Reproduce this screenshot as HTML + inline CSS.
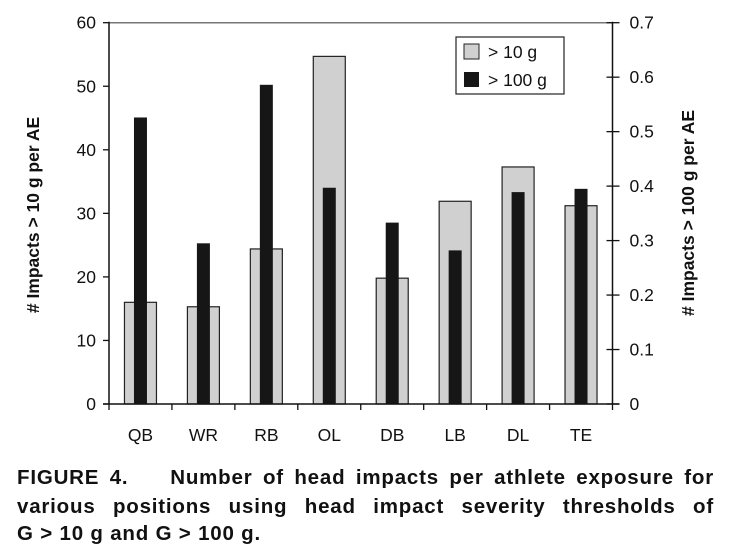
<!DOCTYPE html>
<html><head><meta charset="utf-8"><style>
body{margin:0;width:730px;height:555px;background:#fff;overflow:hidden;font-family:"Liberation Sans",Arial,sans-serif;}
svg{position:absolute;left:0;top:0;}
.cap{position:absolute;left:17px;width:697px;font-weight:bold;font-size:20.5px;letter-spacing:0.8px;text-align:justify;text-align-last:justify;white-space:nowrap;color:#111;}
</style></head><body>
<svg id="chart" width="730" height="460"></svg>
<div class="cap" style="top:466px"><span>FIGURE 4.</span>&nbsp;&nbsp;&nbsp; Number of head impacts per athlete exposure for</div>
<div class="cap" style="top:495px">various positions using head impact severity thresholds of</div>
<div class="cap" style="top:522px;text-align-last:left;width:auto">G &gt; 10 g and G &gt; 100 g.</div>
<script>
const categories=["QB","WR","RB","OL","DB","LB","DL","TE"];
const impacts10=[16.0,15.3,24.4,54.7,19.8,31.9,37.3,31.2];
const impacts100=[0.526,0.295,0.586,0.397,0.333,0.282,0.389,0.395];
const leftTicks=[0,10,20,30,40,50,60];
const rightTicks=[0,0.1,0.2,0.3,0.4,0.5,0.6,0.7];
const svg=document.getElementById('chart');
const NS='http://www.w3.org/2000/svg';
const X0=109,X1=612.5,Y0=404,Y1=22.7;
const yL=v=>Y0-(v/60)*(Y0-Y1);
const yR=v=>Y0-(v/0.7)*(Y0-Y1);
const bw=(X1-X0)/categories.length;
const xc=i=>X0+bw*(i+0.5);
function mk(t,a){const e=document.createElementNS(NS,t);for(const k in a)e.setAttribute(k,a[k]);svg.appendChild(e);return e;}
let e=mk('line',{x1:X0,y1:Y1,x2:X1,y2:Y1,stroke:'#777','stroke-width':1.5});

categories.forEach((c,i)=>{
  let g=mk('rect',{x:xc(i)-16,y:yL(impacts10[i]),width:32,height:Y0-yL(impacts10[i]),fill:'#d0d0d0',stroke:'#222','stroke-width':1.2});
  
  
  let b=mk('rect',{x:xc(i)-6.5,y:yR(impacts100[i]),width:13,height:Y0-yR(impacts100[i]),fill:'#161616'});
  
  
  let t=mk('text',{x:xc(i),y:441,'text-anchor':'middle','font-size':17.5,fill:'#111'});
  t.textContent=c;
  
  
});
e=mk('line',{x1:X0,y1:Y1-1,x2:X0,y2:Y0,stroke:'#111','stroke-width':1.5});

e=mk('line',{x1:X1,y1:Y1-1,x2:X1,y2:Y0,stroke:'#111','stroke-width':1.5});

e=mk('line',{x1:X0-6,y1:Y0,x2:X1+7,y2:Y0,stroke:'#111','stroke-width':1.5});

for(let i=0;i<=categories.length;i++){
  let tk=mk('line',{x1:X0+bw*i,y1:Y0,x2:X0+bw*i,y2:Y0+6,stroke:'#111','stroke-width':1.3});
  
}
leftTicks.forEach(v=>{
  let tk=mk('line',{x1:X0-6,y1:yL(v),x2:X0,y2:yL(v),stroke:'#111','stroke-width':1.3});
  
  let t=mk('text',{x:X0-13,y:yL(v)+6,'text-anchor':'end','font-size':17.5,fill:'#111'});
  t.textContent=v;
  
});
rightTicks.forEach(v=>{
  let tk=mk('line',{x1:X1-6,y1:yR(v),x2:X1+7,y2:yR(v),stroke:'#111','stroke-width':1.3});
  
  let t=mk('text',{x:X1+17,y:yR(v)+6,'text-anchor':'start','font-size':17.5,fill:'#111'});
  t.textContent=v===0?'0':v.toFixed(1);
  
});
let lt=mk('text',{x:0,y:0,'text-anchor':'middle','font-size':17.5,'font-weight':'bold',fill:'#111',transform:'translate(39,215) rotate(-90)'});
lt.textContent='# Impacts > 10 g per AE';

let rt=mk('text',{x:0,y:0,'text-anchor':'middle','font-size':17.5,'font-weight':'bold',fill:'#111',transform:'translate(694,213) rotate(-90)'});
rt.textContent='# Impacts > 100 g per AE';

let lg=mk('rect',{x:456,y:37,width:108,height:57,fill:'#fff',stroke:'#222','stroke-width':1.2});

let s1=mk('rect',{x:464,y:44,width:15,height:15,fill:'#d0d0d0',stroke:'#222','stroke-width':1});

let s2=mk('rect',{x:464,y:72,width:15,height:15,fill:'#161616'});

let l1=mk('text',{x:488,y:58,'font-size':17.5,fill:'#111'});l1.textContent='> 10 g';

let l2=mk('text',{x:488,y:86,'font-size':17.5,fill:'#111'});l2.textContent='> 100 g';

</script>
</body></html>
